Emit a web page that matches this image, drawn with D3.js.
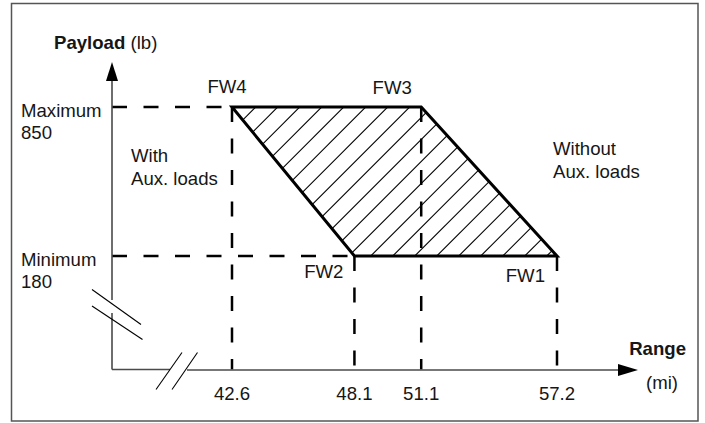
<!DOCTYPE html>
<html>
<head>
<meta charset="utf-8">
<script src="https://cdn.jsdelivr.net/npm/d3@7"></script>
<style>
  html, body { margin: 0; padding: 0; background: #fff; }
  svg text { font-family: "Liberation Sans", Arial, sans-serif; font-size: 18.6px; fill: #161616; }
</style>
</head>
<body>
<div id="chart"></div>
<script>
// corner points of the payload / range envelope
const vertexNames = ['FW4', 'FW3', 'FW1', 'FW2'];
const vertexRange = [42.6, 51.1, 57.2, 48.1];
const vertexPayload = [850, 850, 180, 180];

// axis ticks
const rangeTicks = [42.6, 48.1, 51.1, 57.2];
const payloadTicks = [850, 180];
const payloadTickNames = ['Maximum', 'Minimum'];

const width = 705,
    height = 423;

// label offsets from each corner (px)
const labelOffset = {
    FW4: { dx: -5, dy: -14, anchor: 'middle' },
    FW3: { dx: -29, dy: -13, anchor: 'middle' },
    FW1: { dx: -12, dy: 26, anchor: 'end' },
    FW2: { dx: -11, dy: 22, anchor: 'end' }
};

const origin = { x: 112, y: 369.5 };

const x = d3.scaleLinear().domain([42.6, 57.2]).range([232, 557]);
const y = d3.scaleLinear().domain([180, 850]).range([256, 107]);

const svg = d3.select('#chart').append('svg')
    .attr('width', width)
    .attr('height', height);

// outer frame
svg.append('rect')
    .attr('x', 11.5).attr('y', 3.5)
    .attr('width', 686.5).attr('height', 417.5)
    .attr('fill', 'none')
    .attr('stroke', '#555')
    .attr('stroke-width', 1.5);

const points = vertexNames.map((n, i) => ({ name: n, r: vertexRange[i], p: vertexPayload[i] }));

// dashed guide lines
const dash = '15,16.5';
const guides = svg.append('g')
    .attr('stroke', '#000')
    .attr('stroke-width', 2.5)
    .attr('stroke-dasharray', dash)
    .attr('fill', 'none');

payloadTicks.forEach(v => {
    // horizontal: from axis to leftmost corner at that payload
    const xs = points.filter(d => d.p === v).map(d => x(d.r));
    guides.append('line')
        .attr('x1', origin.x).attr('x2', d3.min(xs))
        .attr('y1', y(v)).attr('y2', y(v));
});

rangeTicks.forEach(v => {
    const pt = points.find(d => d.r === v);
    guides.append('line')
        .attr('x1', x(v)).attr('x2', x(v))
        .attr('y1', y(pt.p)).attr('y2', origin.y);
});

// hatched envelope
const polyStr = points.map(d => [x(d.r), y(d.p)].join(',')).join(' ');

svg.append('clipPath').attr('id', 'envClip')
    .append('polygon').attr('points', polyStr);

const hatch = svg.append('g').attr('clip-path', 'url(#envClip)');
const spacing = 22;
const cBase = x(48.1) + 38.3 + y(180); // x + y = const for each hatch line
for (let k = -20; k <= 20; k++) {
    const c = cBase + k * spacing;
    hatch.append('line')
        .attr('x1', c - y(180) - 20).attr('y1', y(180) + 20)
        .attr('x2', c - y(850) + 20).attr('y2', y(850) - 20)
        .attr('stroke', '#000')
        .attr('stroke-width', 1.1);
}

svg.append('polygon')
    .attr('points', polyStr)
    .attr('fill', 'none')
    .attr('stroke', '#000')
    .attr('stroke-width', 3)
    .attr('stroke-linejoin', 'miter');

// axes with breaks
const axisG = svg.append('g')
    .attr('stroke', '#4a4a4a')
    .attr('stroke-width', 1.6)
    .attr('fill', 'none');

axisG.append('line').attr('x1', origin.x).attr('y1', 80).attr('x2', origin.x).attr('y2', 300);
axisG.append('line').attr('x1', origin.x).attr('y1', 313).attr('x2', origin.x).attr('y2', origin.y);
axisG.append('line').attr('x1', origin.x).attr('y1', origin.y).attr('x2', 170).attr('y2', origin.y);
axisG.append('line').attr('x1', 187).attr('y1', origin.y + 0.5).attr('x2', 620).attr('y2', origin.y + 0.5);

svg.append('path')
    .attr('d', `M${origin.x},62 L${origin.x - 6},81 L${origin.x + 6},81 Z`)
    .attr('fill', '#000');
svg.append('path')
    .attr('d', `M638,${origin.y + 0.5} L618,${origin.y - 5.5} L618,${origin.y + 6.5} Z`)
    .attr('fill', '#000');

// break marks
const brk = svg.append('g').attr('stroke', '#000').attr('stroke-width', 1.1);
[[92, 289.5, 141, 324.5], [92, 306, 142.5, 339.5],
 [156, 389.5, 182, 352.5], [172, 389.5, 197.5, 352.5]].forEach(s => {
    brk.append('line').attr('x1', s[0]).attr('y1', s[1]).attr('x2', s[2]).attr('y2', s[3]);
});

// y labels
const yt = svg.append('text').attr('x', 54).attr('y', 49);
yt.append('tspan').attr('font-weight', 'bold').text('Payload');
yt.append('tspan').text(' (lb)');

payloadTicks.forEach((v, i) => {
    const t = svg.append('text').attr('x', 21).attr('y', y(v) + 9.5);
    t.append('tspan').text(payloadTickNames[i]);
    t.append('tspan').attr('x', 21).attr('dy', 22.3).text(v);
});

// x tick labels
svg.selectAll('.xtick')
    .data(rangeTicks)
    .enter()
    .append('text')
    .attr('class', 'xtick')
    .attr('x', d => x(d))
    .attr('y', 400)
    .attr('text-anchor', 'middle')
    .text(d => d.toFixed(1));

svg.append('text')
    .attr('x', 686).attr('y', 355)
    .attr('text-anchor', 'end')
    .attr('font-weight', 'bold')
    .text('Range');
svg.append('text')
    .attr('x', 662).attr('y', 389)
    .attr('text-anchor', 'middle')
    .text('(mi)');

// corner labels
points.forEach(d => {
    const o = labelOffset[d.name];
    svg.append('text')
        .attr('x', x(d.r) + o.dx)
        .attr('y', y(d.p) + o.dy)
        .attr('text-anchor', o.anchor)
        .text(d.name);
});

// notes
function note(tx, ty, lines) {
    const t = svg.append('text').attr('x', tx).attr('y', ty);
    lines.forEach((l, i) => {
        t.append('tspan').attr('x', tx).attr('dy', i === 0 ? 0 : 23.3).text(l);
    });
}
note(131, 161.5, ['With', 'Aux. loads']);
note(553, 155, ['Without', 'Aux. loads']);
</script>
</body>
</html>
